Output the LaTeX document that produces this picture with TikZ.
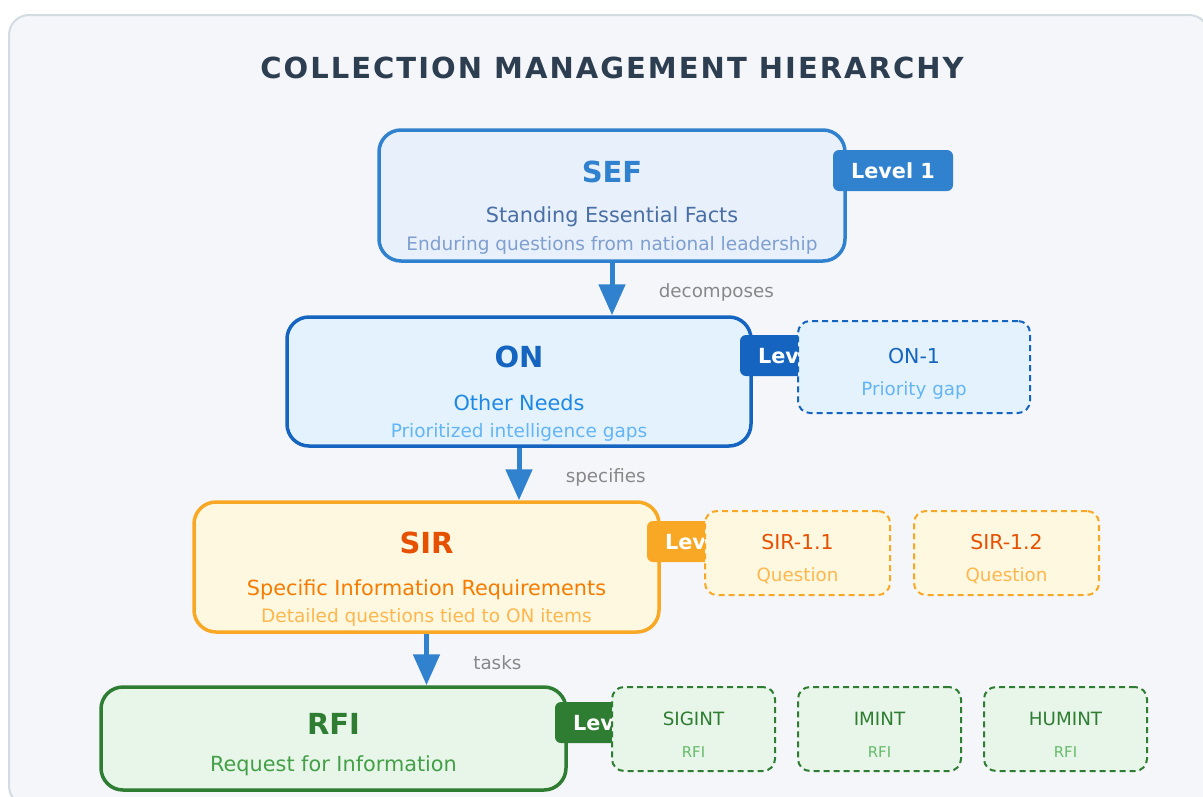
\documentclass[tikz,border=0pt]{standalone}
\usepackage{fontspec}
\setmainfont{DejaVu Sans}
\newfontfamily\titlefont[LetterSpace=7]{DejaVu Sans}
\usetikzlibrary{
    arrows.meta,
    calc,
    positioning
}
\definecolor{bgc}{HTML}{F4F6FA}
\definecolor{bordc}{HTML}{D3DCE2}
\definecolor{titlec}{HTML}{2C3E50}
\definecolor{labelgray}{HTML}{888888}
\definecolor{arrowblue}{HTML}{3182CE}
% level 1
\definecolor{sefc}{HTML}{3182CE}
\definecolor{seffill}{HTML}{E8F0FC}
\definecolor{sefful}{HTML}{4A6FA5}
\definecolor{sefdsc}{HTML}{7F9FCF}
% level 2
\definecolor{onc}{HTML}{1565C0}
\definecolor{onfill}{HTML}{E3F2FD}
\definecolor{onful}{HTML}{1E88E5}
\definecolor{ondsc}{HTML}{64B5F6}
% level 3
\definecolor{sirc}{HTML}{F9A825}
\definecolor{sirfill}{HTML}{FFF8E1}
\definecolor{sirname}{HTML}{E65100}
\definecolor{sirful}{HTML}{F57C00}
\definecolor{sirdsc}{HTML}{FFB74D}
% level 4
\definecolor{rfic}{HTML}{2E7D32}
\definecolor{rfifill}{HTML}{E8F5E9}
\definecolor{rfiful}{HTML}{43A047}
\definecolor{rfidsc}{HTML}{66BB6A}
\tikzset{
    lvbox/.style={draw, rounded corners=22pt, line width=3.5pt, minimum width=465pt},
    subbox/.style={draw, dash pattern=on 6pt off 4pt, rounded corners=12pt, line width=2pt},
    badge/.style={rounded corners=6pt, minimum width=120pt, minimum height=41pt,
        text=white, font=\fontsize{20.8}{24}\selectfont\bfseries},
    flow/.style={draw=arrowblue, line width=5pt, -{Triangle[length=31pt,width=26pt]}},
    lbl/.style={text=labelgray, font=\fontsize{18.3}{22}\selectfont, anchor=west},
    lvname/.style={font=\fontsize{29}{34}\selectfont\bfseries},
    lvfull/.style={font=\fontsize{20.8}{25}\selectfont},
    lvdesc/.style={font=\fontsize{18.5}{22}\selectfont},
    subname/.style={font=\fontsize{20.5}{24}\selectfont},
    subdesc/.style={font=\fontsize{18.3}{22}\selectfont}
}

\begin{document}
\begin{tikzpicture}[x=1pt, y=-1pt]
    \useasboundingbox (0,0) rectangle (1203,796);
    \clip (0,0) rectangle (1203,796);
    \draw[draw=bordc, fill=bgc, line width=2pt, rounded corners=20pt] (9,15) rectangle (1209,806);
    \node[font=\titlefont\bfseries\fontsize{29}{34}\selectfont, text=titlec] (title) at (612,68)
        {COLLECTION MANAGEMENT HIERARCHY};

    % main levels
    \node[lvbox, draw=sefc, fill=seffill, minimum width=466pt, minimum height=131pt] (sef) at (612,195.5) {};
    \node[lvbox, draw=onc, fill=onfill, minimum width=464pt, minimum height=129pt] (on) at (519,381.5) {};
    \node[lvbox, draw=sirc, fill=sirfill, minimum height=130pt] (sir) at (426.5,567) {};
    \node[lvbox, draw=rfic, fill=rfifill, minimum height=103pt] (rfi) at (333.5,738.5) {};

    \node[lvname, text=sefc] (sefn) at (612,172) {SEF};
    \node[lvfull, text=sefful] (seff) at (612,217) {Standing Essential Facts};
    \node[lvdesc, text=sefdsc] (sefd) at (612,245.5) {Enduring questions from national leadership};
    \node[lvname, text=onc] (onn) at (519,357) {ON};
    \node[lvfull, text=onful] (onf) at (519,403) {Other Needs};
    \node[lvdesc, text=ondsc] (ond) at (519,432.5) {Prioritized intelligence gaps};
    \node[lvname, text=sirname] (sirn) at (426.5,543) {SIR};
    \node[lvfull, text=sirful] (sirf) at (426.5,589.5) {Specific Information Requirements};
    \node[lvdesc, text=sirdsc] (sird) at (426.5,617.5) {Detailed questions tied to ON items};
    \node[lvname, text=rfic] (rfin) at (333.5,724) {RFI};
    \node[lvfull, text=rfiful] (rfif) at (333.5,766) {Request for Information};

    % level badges
    \node[badge, fill=sefc] (sefl) at (893,170.5) {Level 1};
    \node[badge, fill=onc] (onl) at (800,355.5) {Level 2};
    \node[badge, fill=sirc] (sirl) at (707,541.5) {Level 3};
    \node[badge, fill=rfic] (rfil) at (615,722.5) {Level 4};

    % items
    \node[subbox, draw=onc, fill=onfill, minimum width=232pt, minimum height=92pt] (on1) at (914,367) {};
    \node[subname, text=onc] at (914,356) {ON-1};
    \node[subdesc, text=ondsc] at (914,390.5) {Priority gap};

    \node[subbox, draw=sirc, fill=sirfill, minimum width=185pt, minimum height=84pt] (sir1) at (797.5,553) {};
    \node[subname, text=sirname] at (797.5,542) {SIR-1.1};
    \node[subdesc, text=sirdsc] at (797.5,576) {Question};
    \node[subbox, draw=sirc, fill=sirfill, minimum width=185pt, minimum height=84pt] (sir2) at (1006.5,553) {};
    \node[subname, text=sirname] at (1006.5,542) {SIR-1.2};
    \node[subdesc, text=sirdsc] at (1006.5,576) {Question};

    \foreach \x/\s in {693.5/SIGINT, 879.5/IMINT, 1065.5/HUMINT} {
        \node[subbox, draw=rfic, fill=rfifill, minimum width=163pt, minimum height=84pt] (\s) at (\x,729) {};
        \node[subdesc, text=rfic] at (\x,719) {\s};
        \node[font=\fontsize{14.9}{18}\selectfont, text=rfidsc] at (\x,752.5) {RFI};
    }

    % flow
    \draw[flow] (sef.south) -- (sef.south |- on.north)
        node[lbl, midway, xshift=41pt, yshift=-3pt] {decomposes};
    \draw[flow] (on.south) -- (on.south |- sir.north)
        node[lbl, midway, xshift=41pt, yshift=-3pt] {specifies};
    \draw[flow] (sir.south) -- (sir.south |- rfi.north)
        node[lbl, midway, xshift=41pt, yshift=-3pt] {tasks};
\end{tikzpicture}
\end{document}
